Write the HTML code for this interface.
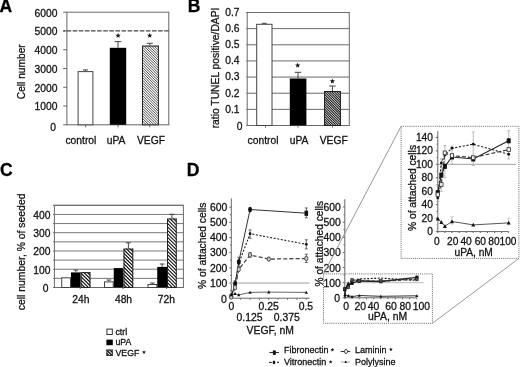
<!DOCTYPE html>
<html><head><meta charset="utf-8"><style>
html,body{margin:0;padding:0;background:#fff;}
svg{display:block;will-change:transform;}
text{font-family:"Liberation Sans", sans-serif;}
</style></head><body>
<svg width="520" height="367" viewBox="0 0 520 367">
<defs>
</defs>
<rect width="520" height="367" fill="#fff"/>
<text x="-0.40" y="12.40" font-size="17.5" text-anchor="start" font-weight="bold" fill="#000" stroke="#000" stroke-width="0.28">A</text>
<rect x="66.90" y="12.20" width="101.90" height="112.60" fill="none" stroke="#666" stroke-width="1"/>
<line x1="63.20" y1="124.80" x2="66.90" y2="124.80" stroke="#666" stroke-width="1"/>
<text x="56.00" y="130.60" font-size="10.3" text-anchor="end" font-weight="normal" fill="#111" stroke="#111" stroke-width="0.28">0</text>
<line x1="63.20" y1="106.03" x2="66.90" y2="106.03" stroke="#666" stroke-width="1"/>
<text x="57.40" y="110.43" font-size="10.3" text-anchor="end" font-weight="normal" fill="#111" stroke="#111" stroke-width="0.28">1000</text>
<line x1="63.20" y1="87.27" x2="66.90" y2="87.27" stroke="#666" stroke-width="1"/>
<text x="57.40" y="91.67" font-size="10.3" text-anchor="end" font-weight="normal" fill="#111" stroke="#111" stroke-width="0.28">2000</text>
<line x1="63.20" y1="68.50" x2="66.90" y2="68.50" stroke="#666" stroke-width="1"/>
<text x="57.40" y="72.90" font-size="10.3" text-anchor="end" font-weight="normal" fill="#111" stroke="#111" stroke-width="0.28">3000</text>
<line x1="63.20" y1="49.73" x2="66.90" y2="49.73" stroke="#666" stroke-width="1"/>
<text x="57.40" y="54.13" font-size="10.3" text-anchor="end" font-weight="normal" fill="#111" stroke="#111" stroke-width="0.28">4000</text>
<line x1="63.20" y1="30.97" x2="66.90" y2="30.97" stroke="#666" stroke-width="1"/>
<text x="57.40" y="35.37" font-size="10.3" text-anchor="end" font-weight="normal" fill="#111" stroke="#111" stroke-width="0.28">5000</text>
<line x1="63.20" y1="12.20" x2="66.90" y2="12.20" stroke="#666" stroke-width="1"/>
<text x="57.40" y="16.60" font-size="10.3" text-anchor="end" font-weight="normal" fill="#111" stroke="#111" stroke-width="0.28">6000</text>
<line x1="63.20" y1="30.97" x2="168.80" y2="30.97" stroke="#444" stroke-width="1.3" stroke-dasharray="4.6 1.5" stroke-dashoffset="2.7"/>
<rect x="78.10" y="71.60" width="14.80" height="53.20" fill="#fff" stroke="#444" stroke-width="1"/>
<line x1="85.50" y1="71.10" x2="85.50" y2="69.90" stroke="#444" stroke-width="1"/>
<line x1="83.00" y1="69.90" x2="88.00" y2="69.90" stroke="#444" stroke-width="1"/>
<rect x="109.80" y="47.80" width="16.40" height="77.00" fill="#000" stroke="none" stroke-width="1"/>
<line x1="118.00" y1="47.80" x2="118.00" y2="41.60" stroke="#444" stroke-width="1"/>
<line x1="114.70" y1="41.60" x2="121.30" y2="41.60" stroke="#444" stroke-width="1"/>
<rect x="142.00" y="45.60" width="16.90" height="79.20" fill="#fff" stroke="none" stroke-width="1"/>
<clipPath id="hc1"><rect x="142.00" y="45.60" width="16.90" height="79.20"/></clipPath>
<g clip-path="url(#hc1)"><path d="M141.00 25.15L159.90 44.05M141.00 27.70L159.90 46.60M141.00 30.25L159.90 49.15M141.00 32.80L159.90 51.70M141.00 35.35L159.90 54.25M141.00 37.90L159.90 56.80M141.00 40.45L159.90 59.35M141.00 43.00L159.90 61.90M141.00 45.55L159.90 64.45M141.00 48.10L159.90 67.00M141.00 50.65L159.90 69.55M141.00 53.20L159.90 72.10M141.00 55.75L159.90 74.65M141.00 58.30L159.90 77.20M141.00 60.85L159.90 79.75M141.00 63.40L159.90 82.30M141.00 65.95L159.90 84.85M141.00 68.50L159.90 87.40M141.00 71.05L159.90 89.95M141.00 73.60L159.90 92.50M141.00 76.15L159.90 95.05M141.00 78.70L159.90 97.60M141.00 81.25L159.90 100.15M141.00 83.80L159.90 102.70M141.00 86.35L159.90 105.25M141.00 88.90L159.90 107.80M141.00 91.45L159.90 110.35M141.00 94.00L159.90 112.90M141.00 96.55L159.90 115.45M141.00 99.10L159.90 118.00M141.00 101.65L159.90 120.55M141.00 104.20L159.90 123.10M141.00 106.75L159.90 125.65M141.00 109.30L159.90 128.20M141.00 111.85L159.90 130.75M141.00 114.40L159.90 133.30M141.00 116.95L159.90 135.85M141.00 119.50L159.90 138.40M141.00 122.05L159.90 140.95M141.00 124.60L159.90 143.50" stroke="#333" stroke-width="0.85" fill="none"/></g>
<rect x="142.50" y="46.10" width="15.90" height="78.70" fill="none" stroke="#222" stroke-width="1"/>
<line x1="149.80" y1="45.60" x2="149.80" y2="43.30" stroke="#444" stroke-width="1"/>
<line x1="146.80" y1="43.30" x2="152.80" y2="43.30" stroke="#444" stroke-width="1"/>
<polygon points="118.10,32.80 118.79,34.65 120.76,34.73 119.22,35.96 119.75,37.87 118.10,36.78 116.45,37.87 116.98,35.96 115.44,34.73 117.41,34.65" fill="#111"/>
<polygon points="149.70,32.80 150.39,34.65 152.36,34.73 150.82,35.96 151.35,37.87 149.70,36.78 148.05,37.87 148.58,35.96 147.04,34.73 149.01,34.65" fill="#111"/>
<line x1="85.50" y1="124.80" x2="85.50" y2="127.30" stroke="#666" stroke-width="1"/>
<line x1="118.00" y1="124.80" x2="118.00" y2="127.30" stroke="#666" stroke-width="1"/>
<line x1="149.80" y1="124.80" x2="149.80" y2="127.30" stroke="#666" stroke-width="1"/>
<text x="80.90" y="143.70" font-size="10.3" text-anchor="middle" font-weight="normal" fill="#111" stroke="#111" stroke-width="0.28">control</text>
<text x="116.10" y="143.70" font-size="10.3" text-anchor="middle" font-weight="normal" fill="#111" stroke="#111" stroke-width="0.28">uPA</text>
<text x="151.00" y="143.70" font-size="10.3" text-anchor="middle" font-weight="normal" fill="#111" stroke="#111" stroke-width="0.28">VEGF</text>
<text x="25.20" y="71.75" font-size="10.2" text-anchor="middle" font-weight="normal" fill="#111" stroke="#111" stroke-width="0.28" transform="rotate(-90 25.2 71.75)">Cell number</text>
<text x="187.70" y="12.40" font-size="17.5" text-anchor="start" font-weight="bold" fill="#000" stroke="#000" stroke-width="0.28">B</text>
<line x1="246.20" y1="125.50" x2="349.30" y2="125.50" stroke="#6a6a6a" stroke-width="1"/>
<text x="242.40" y="129.60" font-size="10.3" text-anchor="end" font-weight="normal" fill="#111" stroke="#111" stroke-width="0.28">0</text>
<line x1="246.20" y1="109.36" x2="349.30" y2="109.36" stroke="#6a6a6a" stroke-width="1"/>
<text x="239.60" y="112.66" font-size="10.3" text-anchor="end" font-weight="normal" fill="#111" stroke="#111" stroke-width="0.28">0.1</text>
<line x1="246.20" y1="93.21" x2="349.30" y2="93.21" stroke="#6a6a6a" stroke-width="1"/>
<text x="239.60" y="96.51" font-size="10.3" text-anchor="end" font-weight="normal" fill="#111" stroke="#111" stroke-width="0.28">0.2</text>
<line x1="246.20" y1="77.07" x2="349.30" y2="77.07" stroke="#6a6a6a" stroke-width="1"/>
<text x="239.60" y="80.37" font-size="10.3" text-anchor="end" font-weight="normal" fill="#111" stroke="#111" stroke-width="0.28">0.3</text>
<line x1="246.20" y1="60.93" x2="349.30" y2="60.93" stroke="#6a6a6a" stroke-width="1"/>
<text x="239.60" y="64.23" font-size="10.3" text-anchor="end" font-weight="normal" fill="#111" stroke="#111" stroke-width="0.28">0.4</text>
<line x1="246.20" y1="44.79" x2="349.30" y2="44.79" stroke="#6a6a6a" stroke-width="1"/>
<text x="239.60" y="48.09" font-size="10.3" text-anchor="end" font-weight="normal" fill="#111" stroke="#111" stroke-width="0.28">0.5</text>
<line x1="246.20" y1="28.64" x2="349.30" y2="28.64" stroke="#6a6a6a" stroke-width="1"/>
<text x="239.60" y="31.94" font-size="10.3" text-anchor="end" font-weight="normal" fill="#111" stroke="#111" stroke-width="0.28">0.6</text>
<line x1="246.20" y1="12.50" x2="349.30" y2="12.50" stroke="#6a6a6a" stroke-width="1"/>
<text x="239.60" y="15.80" font-size="10.3" text-anchor="end" font-weight="normal" fill="#111" stroke="#111" stroke-width="0.28">0.7</text>
<rect x="247.20" y="12.50" width="102.10" height="113.00" fill="none" stroke="#6a6a6a" stroke-width="1"/>
<rect x="256.70" y="24.30" width="15.30" height="101.20" fill="#fff" stroke="#444" stroke-width="1"/>
<line x1="264.30" y1="23.80" x2="264.30" y2="23.30" stroke="#444" stroke-width="1"/>
<line x1="261.80" y1="23.30" x2="266.80" y2="23.30" stroke="#444" stroke-width="1"/>
<rect x="289.80" y="78.50" width="16.60" height="47.00" fill="#000" stroke="none" stroke-width="1"/>
<line x1="298.00" y1="78.50" x2="298.00" y2="72.30" stroke="#444" stroke-width="1"/>
<line x1="294.70" y1="72.30" x2="301.30" y2="72.30" stroke="#444" stroke-width="1"/>
<rect x="324.00" y="91.00" width="16.90" height="34.50" fill="#fff" stroke="none" stroke-width="1"/>
<clipPath id="hc2"><rect x="324.00" y="91.00" width="16.90" height="34.50"/></clipPath>
<g clip-path="url(#hc2)"><path d="M323.00 70.65L341.90 89.55M323.00 73.10L341.90 92.00M323.00 75.55L341.90 94.45M323.00 78.00L341.90 96.90M323.00 80.45L341.90 99.35M323.00 82.90L341.90 101.80M323.00 85.35L341.90 104.25M323.00 87.80L341.90 106.70M323.00 90.25L341.90 109.15M323.00 92.70L341.90 111.60M323.00 95.15L341.90 114.05M323.00 97.60L341.90 116.50M323.00 100.05L341.90 118.95M323.00 102.50L341.90 121.40M323.00 104.95L341.90 123.85M323.00 107.40L341.90 126.30M323.00 109.85L341.90 128.75M323.00 112.30L341.90 131.20M323.00 114.75L341.90 133.65M323.00 117.20L341.90 136.10M323.00 119.65L341.90 138.55M323.00 122.10L341.90 141.00M323.00 124.55L341.90 143.45" stroke="#111" stroke-width="1.05" fill="none"/></g>
<rect x="324.50" y="91.50" width="15.90" height="34.00" fill="none" stroke="#222" stroke-width="1"/>
<line x1="332.40" y1="91.00" x2="332.40" y2="86.00" stroke="#444" stroke-width="1"/>
<line x1="329.10" y1="86.00" x2="335.70" y2="86.00" stroke="#444" stroke-width="1"/>
<polygon points="297.70,62.60 298.39,64.45 300.36,64.53 298.82,65.76 299.35,67.67 297.70,66.58 296.05,67.67 296.58,65.76 295.04,64.53 297.01,64.45" fill="#111"/>
<polygon points="332.40,78.40 333.09,80.25 335.06,80.33 333.52,81.56 334.05,83.47 332.40,82.38 330.75,83.47 331.28,81.56 329.74,80.33 331.71,80.25" fill="#111"/>
<line x1="265.50" y1="125.50" x2="265.50" y2="127.70" stroke="#6a6a6a" stroke-width="1"/>
<line x1="298.00" y1="125.50" x2="298.00" y2="127.70" stroke="#6a6a6a" stroke-width="1"/>
<line x1="332.40" y1="125.50" x2="332.40" y2="127.70" stroke="#6a6a6a" stroke-width="1"/>
<text x="263.00" y="143.60" font-size="10.3" text-anchor="middle" font-weight="normal" fill="#111" stroke="#111" stroke-width="0.28">control</text>
<text x="299.10" y="143.60" font-size="10.3" text-anchor="middle" font-weight="normal" fill="#111" stroke="#111" stroke-width="0.28">uPA</text>
<text x="333.70" y="143.60" font-size="10.3" text-anchor="middle" font-weight="normal" fill="#111" stroke="#111" stroke-width="0.28">VEGF</text>
<text x="218.60" y="67.95" font-size="10.3" text-anchor="middle" font-weight="normal" fill="#111" stroke="#111" stroke-width="0.28" transform="rotate(-90 218.6 67.95)">ratio TUNEL positive/DAPI</text>
<text x="-0.10" y="176.30" font-size="17.5" text-anchor="start" font-weight="bold" fill="#000" stroke="#000" stroke-width="0.28">C</text>
<line x1="53.00" y1="287.50" x2="183.40" y2="287.50" stroke="#777" stroke-width="1"/>
<line x1="53.00" y1="278.37" x2="183.40" y2="278.37" stroke="#777" stroke-width="1"/>
<line x1="53.00" y1="269.23" x2="183.40" y2="269.23" stroke="#777" stroke-width="1"/>
<text x="50.40" y="273.63" font-size="10.3" text-anchor="end" font-weight="normal" fill="#111" stroke="#111" stroke-width="0.28">100</text>
<line x1="53.00" y1="260.10" x2="183.40" y2="260.10" stroke="#777" stroke-width="1"/>
<line x1="53.00" y1="250.97" x2="183.40" y2="250.97" stroke="#777" stroke-width="1"/>
<text x="50.40" y="255.37" font-size="10.3" text-anchor="end" font-weight="normal" fill="#111" stroke="#111" stroke-width="0.28">200</text>
<line x1="53.00" y1="241.83" x2="183.40" y2="241.83" stroke="#777" stroke-width="1"/>
<line x1="53.00" y1="232.70" x2="183.40" y2="232.70" stroke="#777" stroke-width="1"/>
<text x="50.40" y="237.10" font-size="10.3" text-anchor="end" font-weight="normal" fill="#111" stroke="#111" stroke-width="0.28">300</text>
<line x1="53.00" y1="223.57" x2="183.40" y2="223.57" stroke="#777" stroke-width="1"/>
<line x1="53.00" y1="214.43" x2="183.40" y2="214.43" stroke="#777" stroke-width="1"/>
<text x="50.40" y="218.83" font-size="10.3" text-anchor="end" font-weight="normal" fill="#111" stroke="#111" stroke-width="0.28">400</text>
<line x1="53.00" y1="205.30" x2="183.40" y2="205.30" stroke="#777" stroke-width="1"/>
<text x="48.60" y="291.90" font-size="10.3" text-anchor="end" font-weight="normal" fill="#111" stroke="#111" stroke-width="0.28">0</text>
<rect x="54.40" y="205.30" width="129.00" height="82.20" fill="none" stroke="#6a6a6a" stroke-width="1"/>
<rect x="61.70" y="277.80" width="8.75" height="9.70" fill="#fff" stroke="#444" stroke-width="1"/>
<rect x="70.95" y="272.40" width="9.75" height="15.10" fill="#000" stroke="none" stroke-width="1"/>
<line x1="75.83" y1="272.40" x2="75.83" y2="270.00" stroke="#444" stroke-width="1"/>
<line x1="73.42" y1="270.00" x2="78.23" y2="270.00" stroke="#444" stroke-width="1"/>
<rect x="80.70" y="272.10" width="9.75" height="15.40" fill="#fff" stroke="none" stroke-width="1"/>
<clipPath id="hc3"><rect x="80.70" y="272.10" width="9.75" height="15.40"/></clipPath>
<g clip-path="url(#hc3)"><path d="M79.70 257.85L91.45 269.60M79.70 261.35L91.45 273.10M79.70 264.85L91.45 276.60M79.70 268.35L91.45 280.10M79.70 271.85L91.45 283.60M79.70 275.35L91.45 287.10M79.70 278.85L91.45 290.60M79.70 282.35L91.45 294.10M79.70 285.85L91.45 297.60M79.70 289.35L91.45 301.10" stroke="#111" stroke-width="1.2" fill="none"/></g>
<rect x="81.20" y="272.60" width="8.75" height="14.90" fill="none" stroke="#222" stroke-width="1"/>
<line x1="80.21" y1="287.50" x2="80.21" y2="289.10" stroke="#6a6a6a" stroke-width="1"/>
<rect x="104.50" y="281.90" width="8.75" height="5.60" fill="#fff" stroke="#444" stroke-width="1"/>
<line x1="108.88" y1="281.40" x2="108.88" y2="280.00" stroke="#444" stroke-width="1"/>
<line x1="106.47" y1="280.00" x2="111.28" y2="280.00" stroke="#444" stroke-width="1"/>
<rect x="113.75" y="268.10" width="9.75" height="19.40" fill="#000" stroke="none" stroke-width="1"/>
<rect x="123.50" y="248.60" width="9.75" height="38.90" fill="#fff" stroke="none" stroke-width="1"/>
<clipPath id="hc4"><rect x="123.50" y="248.60" width="9.75" height="38.90"/></clipPath>
<g clip-path="url(#hc4)"><path d="M122.50 234.35L134.25 246.10M122.50 237.85L134.25 249.60M122.50 241.35L134.25 253.10M122.50 244.85L134.25 256.60M122.50 248.35L134.25 260.10M122.50 251.85L134.25 263.60M122.50 255.35L134.25 267.10M122.50 258.85L134.25 270.60M122.50 262.35L134.25 274.10M122.50 265.85L134.25 277.60M122.50 269.35L134.25 281.10M122.50 272.85L134.25 284.60M122.50 276.35L134.25 288.10M122.50 279.85L134.25 291.60M122.50 283.35L134.25 295.10M122.50 286.85L134.25 298.60" stroke="#111" stroke-width="1.2" fill="none"/></g>
<rect x="124.00" y="249.10" width="8.75" height="38.40" fill="none" stroke="#222" stroke-width="1"/>
<line x1="128.38" y1="248.60" x2="128.38" y2="242.80" stroke="#444" stroke-width="1"/>
<line x1="125.97" y1="242.80" x2="130.78" y2="242.80" stroke="#444" stroke-width="1"/>
<line x1="123.01" y1="287.50" x2="123.01" y2="289.10" stroke="#6a6a6a" stroke-width="1"/>
<rect x="148.00" y="284.50" width="8.75" height="3.00" fill="#fff" stroke="#444" stroke-width="1"/>
<line x1="152.38" y1="284.00" x2="152.38" y2="283.00" stroke="#444" stroke-width="1"/>
<line x1="149.97" y1="283.00" x2="154.78" y2="283.00" stroke="#444" stroke-width="1"/>
<rect x="157.25" y="266.90" width="9.75" height="20.60" fill="#000" stroke="none" stroke-width="1"/>
<line x1="162.12" y1="266.90" x2="162.12" y2="264.00" stroke="#444" stroke-width="1"/>
<line x1="159.72" y1="264.00" x2="164.53" y2="264.00" stroke="#444" stroke-width="1"/>
<rect x="167.00" y="218.50" width="9.75" height="69.00" fill="#fff" stroke="none" stroke-width="1"/>
<clipPath id="hc5"><rect x="167.00" y="218.50" width="9.75" height="69.00"/></clipPath>
<g clip-path="url(#hc5)"><path d="M166.00 204.25L177.75 216.00M166.00 207.75L177.75 219.50M166.00 211.25L177.75 223.00M166.00 214.75L177.75 226.50M166.00 218.25L177.75 230.00M166.00 221.75L177.75 233.50M166.00 225.25L177.75 237.00M166.00 228.75L177.75 240.50M166.00 232.25L177.75 244.00M166.00 235.75L177.75 247.50M166.00 239.25L177.75 251.00M166.00 242.75L177.75 254.50M166.00 246.25L177.75 258.00M166.00 249.75L177.75 261.50M166.00 253.25L177.75 265.00M166.00 256.75L177.75 268.50M166.00 260.25L177.75 272.00M166.00 263.75L177.75 275.50M166.00 267.25L177.75 279.00M166.00 270.75L177.75 282.50M166.00 274.25L177.75 286.00M166.00 277.75L177.75 289.50M166.00 281.25L177.75 293.00M166.00 284.75L177.75 296.50M166.00 288.25L177.75 300.00" stroke="#111" stroke-width="1.2" fill="none"/></g>
<rect x="167.50" y="219.00" width="8.75" height="68.50" fill="none" stroke="#222" stroke-width="1"/>
<line x1="171.88" y1="218.50" x2="171.88" y2="214.30" stroke="#444" stroke-width="1"/>
<line x1="169.47" y1="214.30" x2="174.28" y2="214.30" stroke="#444" stroke-width="1"/>
<line x1="166.51" y1="287.50" x2="166.51" y2="289.10" stroke="#6a6a6a" stroke-width="1"/>
<text x="80.80" y="303.00" font-size="10.3" text-anchor="middle" font-weight="normal" fill="#111" stroke="#111" stroke-width="0.28">24h</text>
<text x="123.50" y="303.00" font-size="10.3" text-anchor="middle" font-weight="normal" fill="#111" stroke="#111" stroke-width="0.28">48h</text>
<text x="166.40" y="303.00" font-size="10.3" text-anchor="middle" font-weight="normal" fill="#111" stroke="#111" stroke-width="0.28">72h</text>
<rect x="106.90" y="329.10" width="5.40" height="5.40" fill="#fff" stroke="#333" stroke-width="1"/>
<rect x="106.40" y="339.60" width="6.40" height="5.60" fill="#000" stroke="none" stroke-width="1"/>
<rect x="106.40" y="349.60" width="6.40" height="6.40" fill="#fff" stroke="none" stroke-width="1"/>
<clipPath id="hc6"><rect x="106.40" y="349.60" width="6.40" height="6.40"/></clipPath>
<g clip-path="url(#hc6)"><path d="M105.40 338.90L113.80 347.30M105.40 342.20L113.80 350.60M105.40 345.50L113.80 353.90M105.40 348.80L113.80 357.20M105.40 352.10L113.80 360.50M105.40 355.40L113.80 363.80" stroke="#111" stroke-width="1.4" fill="none"/></g>
<rect x="106.90" y="350.10" width="5.40" height="5.40" fill="none" stroke="#333" stroke-width="1"/>
<text x="115.40" y="334.50" font-size="8.8" text-anchor="start" font-weight="normal" fill="#111" stroke="#111" stroke-width="0.28">ctrl</text>
<text x="115.40" y="345.00" font-size="8.8" text-anchor="start" font-weight="normal" fill="#111" stroke="#111" stroke-width="0.28">uPA</text>
<text x="115.40" y="355.50" font-size="8.8" text-anchor="start" font-weight="normal" fill="#111" stroke="#111" stroke-width="0.28">VEGF</text>
<polygon points="144.00,350.10 144.52,351.49 146.00,351.55 144.84,352.47 145.23,353.90 144.00,353.08 142.77,353.90 143.16,352.47 142.00,351.55 143.48,351.49" fill="#111"/>
<text x="25.20" y="251.90" font-size="10.4" text-anchor="middle" font-weight="normal" fill="#111" stroke="#111" stroke-width="0.28" transform="rotate(-90 25.2 251.9)">cell number, % of seeded</text>
<text x="186.70" y="176.20" font-size="17.5" text-anchor="start" font-weight="bold" fill="#000" stroke="#000" stroke-width="0.28">D</text>
<line x1="231.30" y1="198.30" x2="231.30" y2="298.20" stroke="#666" stroke-width="1"/>
<line x1="231.30" y1="298.20" x2="309.80" y2="298.20" stroke="#666" stroke-width="1"/>
<line x1="229.30" y1="298.20" x2="231.30" y2="298.20" stroke="#666" stroke-width="1"/>
<text x="226.80" y="302.80" font-size="10.4" text-anchor="end" font-weight="normal" fill="#111" stroke="#111" stroke-width="0.28">0</text>
<line x1="230.00" y1="290.62" x2="231.30" y2="290.62" stroke="#666" stroke-width="1"/>
<line x1="229.30" y1="283.03" x2="231.30" y2="283.03" stroke="#666" stroke-width="1"/>
<text x="227.30" y="286.83" font-size="10.4" text-anchor="end" font-weight="normal" fill="#111" stroke="#111" stroke-width="0.28">100</text>
<line x1="230.00" y1="275.44" x2="231.30" y2="275.44" stroke="#666" stroke-width="1"/>
<line x1="229.30" y1="267.86" x2="231.30" y2="267.86" stroke="#666" stroke-width="1"/>
<text x="227.30" y="271.66" font-size="10.4" text-anchor="end" font-weight="normal" fill="#111" stroke="#111" stroke-width="0.28">200</text>
<line x1="230.00" y1="260.27" x2="231.30" y2="260.27" stroke="#666" stroke-width="1"/>
<line x1="229.30" y1="252.69" x2="231.30" y2="252.69" stroke="#666" stroke-width="1"/>
<text x="227.30" y="256.49" font-size="10.4" text-anchor="end" font-weight="normal" fill="#111" stroke="#111" stroke-width="0.28">300</text>
<line x1="230.00" y1="245.10" x2="231.30" y2="245.10" stroke="#666" stroke-width="1"/>
<line x1="229.30" y1="237.52" x2="231.30" y2="237.52" stroke="#666" stroke-width="1"/>
<text x="227.30" y="241.32" font-size="10.4" text-anchor="end" font-weight="normal" fill="#111" stroke="#111" stroke-width="0.28">400</text>
<line x1="230.00" y1="229.94" x2="231.30" y2="229.94" stroke="#666" stroke-width="1"/>
<line x1="229.30" y1="222.35" x2="231.30" y2="222.35" stroke="#666" stroke-width="1"/>
<text x="227.30" y="226.15" font-size="10.4" text-anchor="end" font-weight="normal" fill="#111" stroke="#111" stroke-width="0.28">500</text>
<line x1="230.00" y1="214.76" x2="231.30" y2="214.76" stroke="#666" stroke-width="1"/>
<line x1="229.30" y1="207.18" x2="231.30" y2="207.18" stroke="#666" stroke-width="1"/>
<text x="227.30" y="210.98" font-size="10.4" text-anchor="end" font-weight="normal" fill="#111" stroke="#111" stroke-width="0.28">600</text>
<line x1="231.30" y1="283.03" x2="309.60" y2="283.03" stroke="#c8c8c8" stroke-width="1.8"/>
<line x1="240.68" y1="298.20" x2="240.68" y2="299.80" stroke="#666" stroke-width="1"/>
<line x1="250.05" y1="298.20" x2="250.05" y2="299.80" stroke="#666" stroke-width="1"/>
<line x1="259.43" y1="298.20" x2="259.43" y2="299.80" stroke="#666" stroke-width="1"/>
<line x1="268.80" y1="298.20" x2="268.80" y2="299.80" stroke="#666" stroke-width="1"/>
<line x1="278.18" y1="298.20" x2="278.18" y2="299.80" stroke="#666" stroke-width="1"/>
<line x1="287.55" y1="298.20" x2="287.55" y2="299.80" stroke="#666" stroke-width="1"/>
<line x1="296.93" y1="298.20" x2="296.93" y2="299.80" stroke="#666" stroke-width="1"/>
<line x1="306.30" y1="298.20" x2="306.30" y2="299.80" stroke="#666" stroke-width="1"/>
<text x="231.50" y="309.70" font-size="10.4" text-anchor="middle" font-weight="normal" fill="#111" stroke="#111" stroke-width="0.28">0</text>
<text x="268.70" y="309.70" font-size="10.4" text-anchor="middle" font-weight="normal" fill="#111" stroke="#111" stroke-width="0.28">0.25</text>
<text x="305.90" y="309.70" font-size="10.4" text-anchor="middle" font-weight="normal" fill="#111" stroke="#111" stroke-width="0.28">0.5</text>
<text x="249.60" y="320.60" font-size="10.4" text-anchor="middle" font-weight="normal" fill="#111" stroke="#111" stroke-width="0.28">0.125</text>
<text x="286.80" y="320.60" font-size="10.4" text-anchor="middle" font-weight="normal" fill="#111" stroke="#111" stroke-width="0.28">0.375</text>
<text x="270.20" y="334.40" font-size="10.4" text-anchor="middle" font-weight="normal" fill="#111" stroke="#111" stroke-width="0.28">VEGF, nM</text>
<text x="206.50" y="245.80" font-size="10.3" text-anchor="middle" font-weight="normal" fill="#111" stroke="#111" stroke-width="0.28" transform="rotate(-90 206.5 245.8)">% of attached cells</text>
<line x1="306.30" y1="207.94" x2="306.30" y2="217.80" stroke="#444" stroke-width="0.8"/>
<line x1="304.80" y1="207.94" x2="307.80" y2="207.94" stroke="#444" stroke-width="0.8"/>
<line x1="304.80" y1="217.80" x2="307.80" y2="217.80" stroke="#444" stroke-width="0.8"/>
<line x1="250.05" y1="229.94" x2="250.05" y2="238.28" stroke="#444" stroke-width="0.8"/>
<line x1="248.55" y1="229.94" x2="251.55" y2="229.94" stroke="#444" stroke-width="0.8"/>
<line x1="248.55" y1="238.28" x2="251.55" y2="238.28" stroke="#444" stroke-width="0.8"/>
<line x1="306.30" y1="239.80" x2="306.30" y2="248.90" stroke="#444" stroke-width="0.8"/>
<line x1="304.80" y1="239.80" x2="307.80" y2="239.80" stroke="#444" stroke-width="0.8"/>
<line x1="304.80" y1="248.90" x2="307.80" y2="248.90" stroke="#444" stroke-width="0.8"/>
<line x1="250.05" y1="252.69" x2="250.05" y2="257.24" stroke="#444" stroke-width="0.8"/>
<line x1="248.55" y1="252.69" x2="251.55" y2="252.69" stroke="#444" stroke-width="0.8"/>
<line x1="248.55" y1="257.24" x2="251.55" y2="257.24" stroke="#444" stroke-width="0.8"/>
<line x1="268.80" y1="257.54" x2="268.80" y2="260.27" stroke="#444" stroke-width="0.8"/>
<line x1="267.30" y1="257.54" x2="270.30" y2="257.54" stroke="#444" stroke-width="0.8"/>
<line x1="267.30" y1="260.27" x2="270.30" y2="260.27" stroke="#444" stroke-width="0.8"/>
<line x1="306.30" y1="254.21" x2="306.30" y2="262.55" stroke="#444" stroke-width="0.8"/>
<line x1="304.80" y1="254.21" x2="307.80" y2="254.21" stroke="#444" stroke-width="0.8"/>
<line x1="304.80" y1="262.55" x2="307.80" y2="262.55" stroke="#444" stroke-width="0.8"/>
<line x1="238.80" y1="257.24" x2="238.80" y2="266.34" stroke="#444" stroke-width="0.8"/>
<line x1="237.30" y1="257.24" x2="240.30" y2="257.24" stroke="#444" stroke-width="0.8"/>
<line x1="237.30" y1="266.34" x2="240.30" y2="266.34" stroke="#444" stroke-width="0.8"/>
<line x1="235.05" y1="280.75" x2="235.05" y2="289.10" stroke="#444" stroke-width="0.8"/>
<line x1="233.55" y1="280.75" x2="236.55" y2="280.75" stroke="#444" stroke-width="0.8"/>
<line x1="233.55" y1="289.10" x2="236.55" y2="289.10" stroke="#444" stroke-width="0.8"/>
<polyline points="231.3,295.9 235.1,283.8 238.8,261.8 250.1,209.5 306.3,213.2" fill="none" stroke="#333" stroke-width="1"/>
<polyline points="231.3,296.7 235.1,285.3 238.8,263.3 250.1,233.7 306.3,244.3" fill="none" stroke="#222" stroke-width="1.1" stroke-dasharray="2 1.6"/>
<polyline points="231.3,297.0 235.1,287.6 238.8,269.4 250.1,255.0 268.8,259.1 306.3,258.5" fill="none" stroke="#444" stroke-width="1.3" stroke-dasharray="4 2.2"/>
<polyline points="231.3,294.9 235.1,293.6 238.8,294.9 250.1,292.4 268.8,292.1 306.3,292.4" fill="none" stroke="#555" stroke-width="0.9"/>
<ellipse cx="231.30" cy="295.92" rx="2.0" ry="2.7" fill="#111"/>
<ellipse cx="235.05" cy="283.79" rx="2.0" ry="2.7" fill="#111"/>
<ellipse cx="238.80" cy="261.79" rx="2.0" ry="2.7" fill="#111"/>
<ellipse cx="250.05" cy="209.46" rx="2.0" ry="2.7" fill="#111"/>
<rect x="304.50" y="210.65" width="3.60" height="5.20" fill="#111" stroke="none" stroke-width="1"/>
<circle cx="231.30" cy="296.68" r="1.4" fill="#111"/>
<circle cx="235.05" cy="285.31" r="1.4" fill="#111"/>
<circle cx="238.80" cy="263.31" r="1.4" fill="#111"/>
<circle cx="250.05" cy="233.73" r="1.4" fill="#111"/>
<circle cx="306.30" cy="244.35" r="1.4" fill="#111"/>
<ellipse cx="231.30" cy="296.99" rx="1.6" ry="2.3" fill="#ccc" stroke="#444" stroke-width="0.9"/>
<ellipse cx="235.05" cy="287.58" rx="1.6" ry="2.3" fill="#ccc" stroke="#444" stroke-width="0.9"/>
<ellipse cx="238.80" cy="269.38" rx="1.6" ry="2.3" fill="#ccc" stroke="#444" stroke-width="0.9"/>
<ellipse cx="250.05" cy="254.97" rx="1.6" ry="2.3" fill="#ccc" stroke="#444" stroke-width="0.9"/>
<ellipse cx="268.80" cy="259.06" rx="1.6" ry="2.3" fill="#ccc" stroke="#444" stroke-width="0.9"/>
<ellipse cx="306.30" cy="258.45" rx="1.6" ry="2.3" fill="#ccc" stroke="#444" stroke-width="0.9"/>
<polygon points="229.70,296.22 232.90,296.22 231.30,293.10" fill="#111"/>
<polygon points="233.45,295.01 236.65,295.01 235.05,291.89" fill="#111"/>
<polygon points="237.20,296.22 240.40,296.22 238.80,293.10" fill="#111"/>
<polygon points="248.45,293.80 251.65,293.80 250.05,290.68" fill="#111"/>
<polygon points="267.20,293.49 270.40,293.49 268.80,290.37" fill="#111"/>
<polygon points="304.70,293.80 307.90,293.80 306.30,290.68" fill="#111"/>
<line x1="344.80" y1="199.20" x2="344.80" y2="297.80" stroke="#666" stroke-width="1"/>
<line x1="344.80" y1="297.80" x2="416.90" y2="297.80" stroke="#666" stroke-width="1"/>
<line x1="342.80" y1="297.80" x2="344.80" y2="297.80" stroke="#666" stroke-width="1"/>
<text x="340.10" y="302.40" font-size="10.4" text-anchor="end" font-weight="normal" fill="#111" stroke="#111" stroke-width="0.28">0</text>
<line x1="343.50" y1="290.24" x2="344.80" y2="290.24" stroke="#666" stroke-width="1"/>
<line x1="342.80" y1="282.67" x2="344.80" y2="282.67" stroke="#666" stroke-width="1"/>
<text x="340.80" y="286.67" font-size="10.4" text-anchor="end" font-weight="normal" fill="#111" stroke="#111" stroke-width="0.28">100</text>
<line x1="343.50" y1="275.11" x2="344.80" y2="275.11" stroke="#666" stroke-width="1"/>
<line x1="342.80" y1="267.54" x2="344.80" y2="267.54" stroke="#666" stroke-width="1"/>
<text x="340.80" y="271.54" font-size="10.4" text-anchor="end" font-weight="normal" fill="#111" stroke="#111" stroke-width="0.28">200</text>
<line x1="343.50" y1="259.98" x2="344.80" y2="259.98" stroke="#666" stroke-width="1"/>
<line x1="342.80" y1="252.41" x2="344.80" y2="252.41" stroke="#666" stroke-width="1"/>
<text x="340.80" y="256.41" font-size="10.4" text-anchor="end" font-weight="normal" fill="#111" stroke="#111" stroke-width="0.28">300</text>
<line x1="343.50" y1="244.85" x2="344.80" y2="244.85" stroke="#666" stroke-width="1"/>
<line x1="342.80" y1="237.28" x2="344.80" y2="237.28" stroke="#666" stroke-width="1"/>
<text x="340.80" y="241.28" font-size="10.4" text-anchor="end" font-weight="normal" fill="#111" stroke="#111" stroke-width="0.28">400</text>
<line x1="343.50" y1="229.72" x2="344.80" y2="229.72" stroke="#666" stroke-width="1"/>
<line x1="342.80" y1="222.15" x2="344.80" y2="222.15" stroke="#666" stroke-width="1"/>
<text x="340.80" y="226.15" font-size="10.4" text-anchor="end" font-weight="normal" fill="#111" stroke="#111" stroke-width="0.28">500</text>
<line x1="343.50" y1="214.59" x2="344.80" y2="214.59" stroke="#666" stroke-width="1"/>
<line x1="342.80" y1="207.02" x2="344.80" y2="207.02" stroke="#666" stroke-width="1"/>
<text x="340.80" y="211.02" font-size="10.4" text-anchor="end" font-weight="normal" fill="#111" stroke="#111" stroke-width="0.28">600</text>
<line x1="344.80" y1="282.67" x2="423.70" y2="282.67" stroke="#bbb" stroke-width="1.0"/>
<line x1="344.80" y1="297.80" x2="344.80" y2="299.20" stroke="#666" stroke-width="1"/>
<line x1="352.01" y1="297.80" x2="352.01" y2="299.20" stroke="#666" stroke-width="1"/>
<line x1="359.22" y1="297.80" x2="359.22" y2="299.20" stroke="#666" stroke-width="1"/>
<line x1="366.43" y1="297.80" x2="366.43" y2="299.20" stroke="#666" stroke-width="1"/>
<line x1="373.64" y1="297.80" x2="373.64" y2="299.20" stroke="#666" stroke-width="1"/>
<line x1="380.85" y1="297.80" x2="380.85" y2="299.20" stroke="#666" stroke-width="1"/>
<line x1="388.06" y1="297.80" x2="388.06" y2="299.20" stroke="#666" stroke-width="1"/>
<line x1="395.27" y1="297.80" x2="395.27" y2="299.20" stroke="#666" stroke-width="1"/>
<line x1="402.48" y1="297.80" x2="402.48" y2="299.20" stroke="#666" stroke-width="1"/>
<line x1="409.69" y1="297.80" x2="409.69" y2="299.20" stroke="#666" stroke-width="1"/>
<line x1="416.90" y1="297.80" x2="416.90" y2="299.20" stroke="#666" stroke-width="1"/>
<text x="346.10" y="310.10" font-size="10.4" text-anchor="middle" font-weight="normal" fill="#111" stroke="#111" stroke-width="0.28">0</text>
<text x="360.20" y="310.10" font-size="10.4" text-anchor="middle" font-weight="normal" fill="#111" stroke="#111" stroke-width="0.28">20</text>
<text x="373.50" y="310.10" font-size="10.4" text-anchor="middle" font-weight="normal" fill="#111" stroke="#111" stroke-width="0.28">40</text>
<text x="391.00" y="310.10" font-size="10.4" text-anchor="middle" font-weight="normal" fill="#111" stroke="#111" stroke-width="0.28">60</text>
<text x="405.30" y="310.10" font-size="10.4" text-anchor="middle" font-weight="normal" fill="#111" stroke="#111" stroke-width="0.28">80</text>
<text x="421.40" y="310.10" font-size="10.4" text-anchor="middle" font-weight="normal" fill="#111" stroke="#111" stroke-width="0.28">100</text>
<text x="387.60" y="319.60" font-size="10.4" text-anchor="middle" font-weight="normal" fill="#111" stroke="#111" stroke-width="0.28">uPA, nM</text>
<text x="323.30" y="243.70" font-size="10.2" text-anchor="middle" font-weight="normal" fill="#111" stroke="#111" stroke-width="0.28" transform="rotate(-90 323.3 243.7)">% of attached cells</text>
<polyline points="344.8,289.0 348.4,285.1 352.0,283.1 359.2,281.0 380.9,281.5 416.9,277.4" fill="none" stroke="#222" stroke-width="1.3"/>
<polyline points="344.8,290.2 348.4,282.4 352.0,280.6 359.2,279.0 380.9,278.1 416.9,280.4" fill="none" stroke="#222" stroke-width="1.2" stroke-dasharray="2 1.5"/>
<polyline points="344.8,289.5 348.4,287.2 352.0,280.1 359.2,280.7 380.9,281.2 416.9,279.3" fill="none" stroke="#333" stroke-width="1.2" stroke-dasharray="3.5 1.8"/>
<polyline points="344.8,294.9 348.4,295.7 352.0,296.6 359.2,295.5 380.9,296.3 416.9,295.8" fill="none" stroke="#333" stroke-width="1"/>
<rect x="343.20" y="287.22" width="3.20" height="3.60" fill="#111" stroke="none" stroke-width="1"/>
<rect x="346.81" y="283.29" width="3.20" height="3.60" fill="#111" stroke="none" stroke-width="1"/>
<rect x="350.41" y="281.32" width="3.20" height="3.60" fill="#111" stroke="none" stroke-width="1"/>
<rect x="357.62" y="279.21" width="3.20" height="3.60" fill="#111" stroke="none" stroke-width="1"/>
<rect x="379.25" y="279.66" width="3.20" height="3.60" fill="#111" stroke="none" stroke-width="1"/>
<rect x="415.30" y="275.57" width="3.20" height="3.60" fill="#111" stroke="none" stroke-width="1"/>
<rect x="343.60" y="287.98" width="2.40" height="3.00" fill="#555" stroke="#222" stroke-width="0.6"/>
<rect x="347.21" y="285.71" width="2.40" height="3.00" fill="#555" stroke="#222" stroke-width="0.6"/>
<rect x="350.81" y="278.60" width="2.40" height="3.00" fill="#555" stroke="#222" stroke-width="0.6"/>
<rect x="358.02" y="279.20" width="2.40" height="3.00" fill="#555" stroke="#222" stroke-width="0.6"/>
<rect x="379.65" y="279.66" width="2.40" height="3.00" fill="#555" stroke="#222" stroke-width="0.6"/>
<rect x="415.70" y="277.84" width="2.40" height="3.00" fill="#555" stroke="#222" stroke-width="0.6"/>
<polygon points="343.30,296.20 346.30,296.20 344.80,293.28" fill="#111"/>
<polygon points="346.91,296.96 349.91,296.96 348.41,294.03" fill="#111"/>
<polygon points="350.51,297.86 353.51,297.86 352.01,294.94" fill="#111"/>
<polygon points="357.72,296.81 360.72,296.81 359.22,293.88" fill="#111"/>
<polygon points="379.35,297.56 382.35,297.56 380.85,294.64" fill="#111"/>
<polygon points="415.40,297.11 418.40,297.11 416.90,294.18" fill="#111"/>
<line x1="345.10" y1="288.72" x2="345.10" y2="297.80" stroke="#111" stroke-width="1.4"/>
<rect x="323.50" y="273.90" width="108.90" height="49.40" fill="none" stroke="#666" stroke-width="1" stroke-dasharray="1 1.1"/>
<rect x="401.10" y="126.30" width="117.80" height="132.10" fill="none" stroke="#666" stroke-width="1" stroke-dasharray="1 1.1"/>
<line x1="437.80" y1="131.10" x2="437.80" y2="231.60" stroke="#666" stroke-width="1"/>
<line x1="437.80" y1="231.60" x2="508.70" y2="231.60" stroke="#666" stroke-width="1"/>
<line x1="435.80" y1="231.60" x2="437.80" y2="231.60" stroke="#666" stroke-width="1"/>
<text x="432.90" y="235.15" font-size="10.2" text-anchor="end" font-weight="normal" fill="#111" stroke="#111" stroke-width="0.28">0</text>
<line x1="436.60" y1="224.88" x2="437.80" y2="224.88" stroke="#666" stroke-width="1"/>
<line x1="435.80" y1="218.15" x2="437.80" y2="218.15" stroke="#666" stroke-width="1"/>
<text x="432.90" y="221.70" font-size="10.2" text-anchor="end" font-weight="normal" fill="#111" stroke="#111" stroke-width="0.28">20</text>
<line x1="436.60" y1="211.42" x2="437.80" y2="211.42" stroke="#666" stroke-width="1"/>
<line x1="435.80" y1="204.70" x2="437.80" y2="204.70" stroke="#666" stroke-width="1"/>
<text x="432.90" y="208.25" font-size="10.2" text-anchor="end" font-weight="normal" fill="#111" stroke="#111" stroke-width="0.28">40</text>
<line x1="436.60" y1="197.97" x2="437.80" y2="197.97" stroke="#666" stroke-width="1"/>
<line x1="435.80" y1="191.25" x2="437.80" y2="191.25" stroke="#666" stroke-width="1"/>
<text x="432.90" y="194.80" font-size="10.2" text-anchor="end" font-weight="normal" fill="#111" stroke="#111" stroke-width="0.28">60</text>
<line x1="436.60" y1="184.53" x2="437.80" y2="184.53" stroke="#666" stroke-width="1"/>
<line x1="435.80" y1="177.80" x2="437.80" y2="177.80" stroke="#666" stroke-width="1"/>
<text x="432.90" y="181.35" font-size="10.2" text-anchor="end" font-weight="normal" fill="#111" stroke="#111" stroke-width="0.28">80</text>
<line x1="436.60" y1="171.07" x2="437.80" y2="171.07" stroke="#666" stroke-width="1"/>
<line x1="435.80" y1="164.35" x2="437.80" y2="164.35" stroke="#666" stroke-width="1"/>
<text x="432.90" y="167.90" font-size="10.2" text-anchor="end" font-weight="normal" fill="#111" stroke="#111" stroke-width="0.28">100</text>
<line x1="436.60" y1="157.62" x2="437.80" y2="157.62" stroke="#666" stroke-width="1"/>
<line x1="435.80" y1="150.90" x2="437.80" y2="150.90" stroke="#666" stroke-width="1"/>
<text x="432.90" y="154.45" font-size="10.2" text-anchor="end" font-weight="normal" fill="#111" stroke="#111" stroke-width="0.28">120</text>
<line x1="436.60" y1="144.18" x2="437.80" y2="144.18" stroke="#666" stroke-width="1"/>
<line x1="435.80" y1="137.45" x2="437.80" y2="137.45" stroke="#666" stroke-width="1"/>
<text x="432.90" y="141.00" font-size="10.2" text-anchor="end" font-weight="normal" fill="#111" stroke="#111" stroke-width="0.28">140</text>
<line x1="437.80" y1="164.35" x2="516.00" y2="164.35" stroke="#999" stroke-width="0.9"/>
<line x1="437.80" y1="231.60" x2="437.80" y2="233.00" stroke="#666" stroke-width="1"/>
<line x1="444.89" y1="231.60" x2="444.89" y2="233.00" stroke="#666" stroke-width="1"/>
<line x1="451.98" y1="231.60" x2="451.98" y2="233.00" stroke="#666" stroke-width="1"/>
<line x1="459.07" y1="231.60" x2="459.07" y2="233.00" stroke="#666" stroke-width="1"/>
<line x1="466.16" y1="231.60" x2="466.16" y2="233.00" stroke="#666" stroke-width="1"/>
<line x1="473.25" y1="231.60" x2="473.25" y2="233.00" stroke="#666" stroke-width="1"/>
<line x1="480.34" y1="231.60" x2="480.34" y2="233.00" stroke="#666" stroke-width="1"/>
<line x1="487.43" y1="231.60" x2="487.43" y2="233.00" stroke="#666" stroke-width="1"/>
<line x1="494.52" y1="231.60" x2="494.52" y2="233.00" stroke="#666" stroke-width="1"/>
<line x1="501.61" y1="231.60" x2="501.61" y2="233.00" stroke="#666" stroke-width="1"/>
<line x1="508.70" y1="231.60" x2="508.70" y2="233.00" stroke="#666" stroke-width="1"/>
<text x="436.90" y="244.60" font-size="10.2" text-anchor="middle" font-weight="normal" fill="#111" stroke="#111" stroke-width="0.28">0</text>
<text x="452.70" y="244.60" font-size="10.2" text-anchor="middle" font-weight="normal" fill="#111" stroke="#111" stroke-width="0.28">20</text>
<text x="466.10" y="244.60" font-size="10.2" text-anchor="middle" font-weight="normal" fill="#111" stroke="#111" stroke-width="0.28">40</text>
<text x="480.30" y="244.60" font-size="10.2" text-anchor="middle" font-weight="normal" fill="#111" stroke="#111" stroke-width="0.28">60</text>
<text x="494.00" y="244.60" font-size="10.2" text-anchor="middle" font-weight="normal" fill="#111" stroke="#111" stroke-width="0.28">80</text>
<text x="508.00" y="244.60" font-size="10.2" text-anchor="middle" font-weight="normal" fill="#111" stroke="#111" stroke-width="0.28">100</text>
<text x="473.70" y="255.50" font-size="10.2" text-anchor="middle" font-weight="normal" fill="#111" stroke="#111" stroke-width="0.28">uPA, nM</text>
<text x="415.50" y="188.00" font-size="10.25" text-anchor="middle" font-weight="normal" fill="#111" stroke="#111" stroke-width="0.28" transform="rotate(-90 415.5 188.0)">% of attached cells</text>
<line x1="437.80" y1="201.34" x2="437.80" y2="185.87" stroke="#aaa" stroke-width="0.8"/>
<line x1="436.30" y1="185.87" x2="439.30" y2="185.87" stroke="#aaa" stroke-width="0.8"/>
<line x1="436.30" y1="201.34" x2="439.30" y2="201.34" stroke="#aaa" stroke-width="0.8"/>
<line x1="441.35" y1="191.25" x2="441.35" y2="158.97" stroke="#aaa" stroke-width="0.8"/>
<line x1="439.85" y1="158.97" x2="442.85" y2="158.97" stroke="#aaa" stroke-width="0.8"/>
<line x1="439.85" y1="191.25" x2="442.85" y2="191.25" stroke="#aaa" stroke-width="0.8"/>
<line x1="444.89" y1="177.80" x2="444.89" y2="145.52" stroke="#aaa" stroke-width="0.8"/>
<line x1="443.39" y1="145.52" x2="446.39" y2="145.52" stroke="#aaa" stroke-width="0.8"/>
<line x1="443.39" y1="177.80" x2="446.39" y2="177.80" stroke="#aaa" stroke-width="0.8"/>
<line x1="451.98" y1="164.35" x2="451.98" y2="146.19" stroke="#aaa" stroke-width="0.8"/>
<line x1="450.48" y1="146.19" x2="453.48" y2="146.19" stroke="#aaa" stroke-width="0.8"/>
<line x1="450.48" y1="164.35" x2="453.48" y2="164.35" stroke="#aaa" stroke-width="0.8"/>
<line x1="473.25" y1="165.69" x2="473.25" y2="132.07" stroke="#aaa" stroke-width="0.8"/>
<line x1="471.75" y1="132.07" x2="474.75" y2="132.07" stroke="#aaa" stroke-width="0.8"/>
<line x1="471.75" y1="165.69" x2="474.75" y2="165.69" stroke="#aaa" stroke-width="0.8"/>
<line x1="508.70" y1="158.97" x2="508.70" y2="130.72" stroke="#aaa" stroke-width="0.8"/>
<line x1="507.20" y1="130.72" x2="510.20" y2="130.72" stroke="#aaa" stroke-width="0.8"/>
<line x1="507.20" y1="158.97" x2="510.20" y2="158.97" stroke="#aaa" stroke-width="0.8"/>
<line x1="437.80" y1="226.22" x2="437.80" y2="213.44" stroke="#bbb" stroke-width="0.8"/>
<line x1="436.30" y1="213.44" x2="439.30" y2="213.44" stroke="#bbb" stroke-width="0.8"/>
<line x1="451.98" y1="225.55" x2="451.98" y2="216.81" stroke="#bbb" stroke-width="0.8"/>
<line x1="450.48" y1="216.81" x2="453.48" y2="216.81" stroke="#bbb" stroke-width="0.8"/>
<line x1="508.70" y1="226.22" x2="508.70" y2="218.15" stroke="#bbb" stroke-width="0.8"/>
<line x1="507.20" y1="218.15" x2="510.20" y2="218.15" stroke="#bbb" stroke-width="0.8"/>
<polyline points="437.8,192.6 441.3,175.1 444.9,166.4 452.0,157.0 473.2,159.0 508.7,140.8" fill="none" stroke="#222" stroke-width="1.1"/>
<polyline points="437.8,198.0 441.3,163.0 444.9,154.9 452.0,148.2 473.2,144.2 508.7,154.3" fill="none" stroke="#222" stroke-width="1.1" stroke-dasharray="2.2 1.6"/>
<polyline points="437.8,194.6 441.3,184.5 444.9,152.9 452.0,155.6 473.2,157.6 508.7,149.6" fill="none" stroke="#333" stroke-width="1.1" stroke-dasharray="4 2"/>
<polyline points="437.8,218.8 441.3,222.2 444.9,226.2 452.0,221.5 473.2,224.9 508.7,222.9" fill="none" stroke="#444" stroke-width="0.9"/>
<rect x="435.80" y="190.09" width="4.00" height="5.00" fill="#111" stroke="none" stroke-width="1"/>
<rect x="439.35" y="172.61" width="4.00" height="5.00" fill="#111" stroke="none" stroke-width="1"/>
<rect x="442.89" y="163.87" width="4.00" height="5.00" fill="#111" stroke="none" stroke-width="1"/>
<rect x="449.98" y="154.45" width="4.00" height="5.00" fill="#111" stroke="none" stroke-width="1"/>
<rect x="471.25" y="156.47" width="4.00" height="5.00" fill="#111" stroke="none" stroke-width="1"/>
<rect x="506.70" y="138.31" width="4.00" height="5.00" fill="#111" stroke="none" stroke-width="1"/>
<circle cx="437.80" cy="197.97" r="1.4" fill="#111"/>
<circle cx="441.35" cy="163.00" r="1.4" fill="#111"/>
<circle cx="444.89" cy="154.94" r="1.4" fill="#111"/>
<circle cx="451.98" cy="148.21" r="1.4" fill="#111"/>
<circle cx="473.25" cy="144.18" r="1.4" fill="#111"/>
<circle cx="508.70" cy="154.26" r="1.4" fill="#111"/>
<rect x="436.10" y="192.71" width="3.40" height="3.80" fill="#eee" stroke="#333" stroke-width="0.8"/>
<rect x="439.65" y="182.62" width="3.40" height="3.80" fill="#eee" stroke="#333" stroke-width="0.8"/>
<rect x="443.19" y="151.02" width="3.40" height="3.80" fill="#eee" stroke="#333" stroke-width="0.8"/>
<rect x="450.28" y="153.71" width="3.40" height="3.80" fill="#eee" stroke="#333" stroke-width="0.8"/>
<rect x="471.55" y="155.72" width="3.40" height="3.80" fill="#eee" stroke="#333" stroke-width="0.8"/>
<rect x="507.00" y="147.66" width="3.40" height="3.80" fill="#eee" stroke="#333" stroke-width="0.8"/>
<polygon points="435.80,220.52 439.80,220.52 437.80,216.62" fill="#111"/>
<polygon points="439.35,223.88 443.35,223.88 441.35,219.99" fill="#111"/>
<polygon points="442.89,227.92 446.89,227.92 444.89,224.02" fill="#111"/>
<polygon points="449.98,223.21 453.98,223.21 451.98,219.31" fill="#111"/>
<polygon points="471.25,226.57 475.25,226.57 473.25,222.68" fill="#111"/>
<polygon points="506.70,224.56 510.70,224.56 508.70,220.66" fill="#111"/>
<line x1="323.50" y1="273.90" x2="401.10" y2="126.30" stroke="#999" stroke-width="1"/>
<line x1="432.40" y1="323.30" x2="518.90" y2="258.40" stroke="#999" stroke-width="1"/>
<line x1="269.40" y1="352.50" x2="279.00" y2="352.50" stroke="#333" stroke-width="1.1"/>
<rect x="272.90" y="350.40" width="2.90" height="4.50" fill="#111" stroke="none" stroke-width="1"/>
<line x1="269.00" y1="362.40" x2="271.80" y2="362.40" stroke="#333" stroke-width="1.1"/>
<line x1="277.10" y1="362.40" x2="279.00" y2="362.40" stroke="#333" stroke-width="1.1"/>
<ellipse cx="274.0" cy="362.4" rx="1.3" ry="1.8" fill="#111"/>
<line x1="340.70" y1="351.50" x2="350.30" y2="351.50" stroke="#333" stroke-width="1.1"/>
<ellipse cx="346.0" cy="351.5" rx="1.5" ry="2.1" fill="#fff" stroke="#333" stroke-width="0.9"/>
<line x1="340.70" y1="362.00" x2="350.00" y2="362.00" stroke="#aaa" stroke-width="1.1"/>
<polygon points="344.40,363.11 347.00,363.11 345.70,360.57" fill="#111"/>
<text x="284.00" y="352.80" font-size="9" text-anchor="start" font-weight="normal" fill="#111" stroke="#111" stroke-width="0.28">Fibronectin</text>
<text x="284.00" y="365.00" font-size="9" text-anchor="start" font-weight="normal" fill="#111" stroke="#111" stroke-width="0.28">Vitronectin</text>
<text x="354.90" y="352.80" font-size="9" text-anchor="start" font-weight="normal" fill="#111" stroke="#111" stroke-width="0.28">Laminin</text>
<text x="354.90" y="365.00" font-size="9" text-anchor="start" font-weight="normal" fill="#111" stroke="#111" stroke-width="0.28">Polylysine</text>
<polygon points="332.40,347.80 332.89,349.12 334.30,349.18 333.20,350.06 333.58,351.42 332.40,350.64 331.22,351.42 331.60,350.06 330.50,349.18 331.91,349.12" fill="#111"/>
<polygon points="330.60,360.00 331.09,361.32 332.50,361.38 331.40,362.26 331.78,363.62 330.60,362.84 329.42,363.62 329.80,362.26 328.70,361.38 330.11,361.32" fill="#111"/>
<polygon points="390.90,347.40 391.39,348.72 392.80,348.78 391.70,349.66 392.08,351.02 390.90,350.24 389.72,351.02 390.10,349.66 389.00,348.78 390.41,348.72" fill="#111"/>
</svg>
</body></html>
